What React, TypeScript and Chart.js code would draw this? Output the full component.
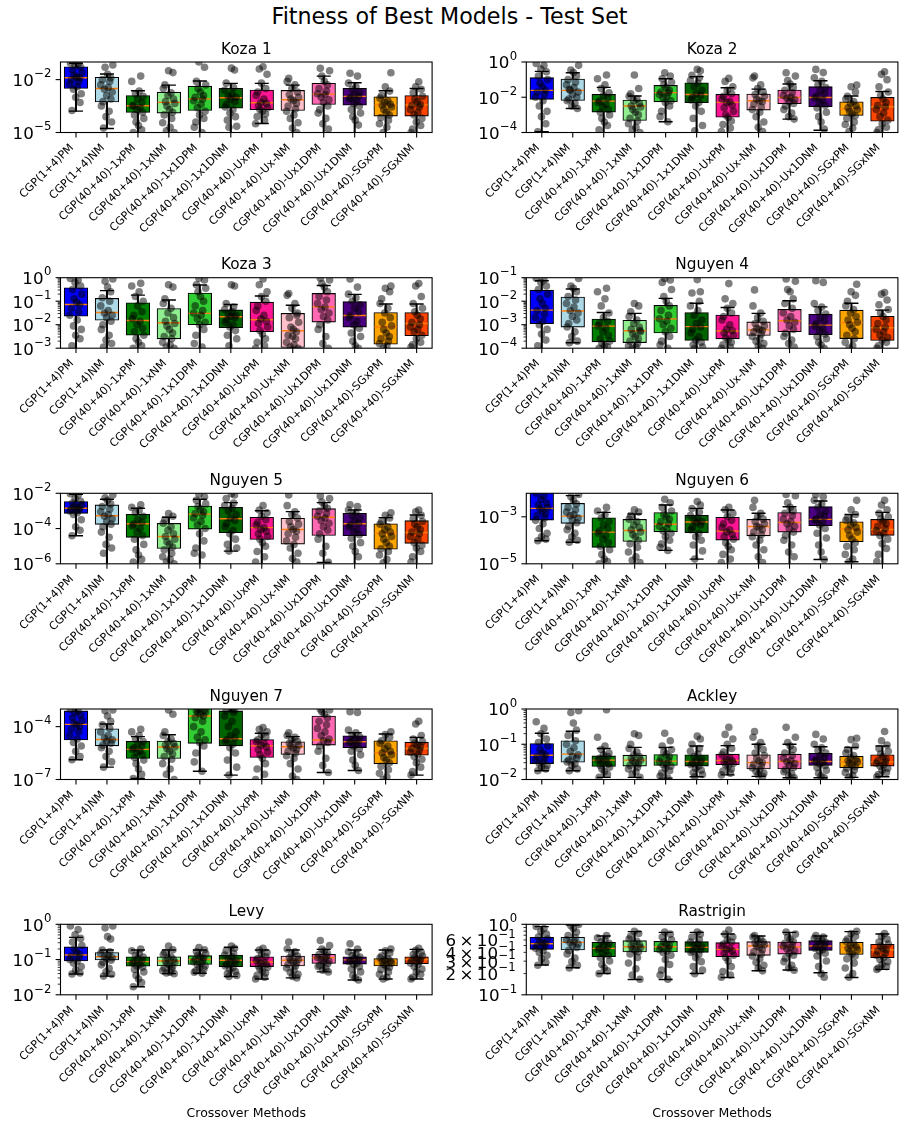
import React, { useEffect, useRef } from "react";
import { Chart, registerables } from "chart.js";

Chart.register(...registerables);

// ---------------- data ----------------
const CATEGORIES = [
  "CGP(1+4)PM", "CGP(1+4)NM", "CGP(40+40)-1xPM", "CGP(40+40)-1xNM",
  "CGP(40+40)-1x1DPM", "CGP(40+40)-1x1DNM", "CGP(40+40)-UxPM", "CGP(40+40)-Ux-NM",
  "CGP(40+40)-Ux1DPM", "CGP(40+40)-Ux1DNM", "CGP(40+40)-SGxPM", "CGP(40+40)-SGxNM",
];

// Box statistics per method, as log10 values: [whiskerLow, q1, median, q3, whiskerHigh]
const koza1Stats = [
  [-3.79, -2.5, -1.89, -1.27, -1.07], [-4.77, -3.27, -2.5, -1.87, -1.68], [-5.5, -3.86, -3.48, -2.9, -2.63],
  [-5.5, -3.9, -3.29, -2.71, -2.31], [-5.5, -3.75, -3.09, -2.37, -2.08], [-5.5, -3.62, -3.03, -2.5, -2.21],
  [-4.49, -3.71, -3.31, -2.59, -2.21], [-5.5, -3.75, -3.14, -2.61, -2.31], [-5.5, -3.41, -2.82, -2.21, -1.8],
  [-5.5, -3.45, -2.95, -2.5, -2.18], [-5.5, -4.07, -3.43, -2.97, -2.63], [-5.5, -4.07, -3.43, -2.9, -2.5],
];
const koza2Stats = [
  [-3.96, -2.12, -1.61, -0.89, -0.53], [-2.64, -2.18, -1.61, -0.97, -0.61], [-4.3, -2.84, -2.22, -1.84, -1.44],
  [-4.3, -3.32, -2.5, -2.16, -1.93], [-3.39, -2.26, -1.74, -1.33, -0.95], [-4.3, -2.31, -1.84, -1.18, -0.83],
  [-4.3, -3.13, -2.29, -1.84, -1.46], [-4.3, -2.73, -2.2, -1.82, -1.54], [-3.24, -2.37, -2.01, -1.59, -1.25],
  [-3.87, -2.54, -2.01, -1.4, -1.06], [-4.3, -3.03, -2.65, -2.26, -1.93], [-4.3, -3.36, -2.54, -2.01, -1.67],
];
const koza3Stats = [
  [-3.3, -1.64, -1.14, -0.43, 0.2], [-3.3, -1.81, -1.48, -0.88, -0.55], [-3.3, -2.45, -1.82, -1.07, -0.74],
  [-3.3, -2.6, -1.92, -1.31, -0.95], [-3.3, -2.0, -1.52, -0.65, -0.31], [-3.3, -2.13, -1.66, -1.37, -1.14],
  [-3.3, -2.3, -1.79, -1.04, -0.78], [-3.3, -2.97, -2.26, -1.52, -1.17], [-3.3, -1.89, -1.24, -0.67, -0.33],
  [-3.3, -2.1, -1.61, -1.02, -0.71], [-3.3, -2.83, -2.09, -1.48, -1.12], [-3.3, -2.47, -1.95, -1.48, -1.12],
];
const nguyen4Stats = [
  [-4.3, -2.96, -2.38, -1.53, -1.13], [-3.77, -3.1, -2.42, -1.82, -1.48], [-4.3, -3.73, -3.06, -2.76, -2.48],
  [-4.3, -3.76, -3.26, -2.81, -2.52], [-4.3, -3.35, -2.75, -2.18, -1.88], [-4.3, -3.67, -3.08, -2.48, -2.09],
  [-4.3, -3.6, -3.27, -2.59, -2.27], [-4.3, -3.46, -3.22, -2.88, -2.52], [-4.3, -3.3, -2.83, -2.35, -1.98],
  [-4.3, -3.42, -3.02, -2.55, -2.24], [-4.3, -3.59, -2.91, -2.38, -2.09], [-4.3, -3.67, -3.13, -2.64, -2.38],
];
const nguyen5Stats = [
  [-4.41, -3.14, -2.85, -2.47, -2.06], [-6.3, -3.76, -3.27, -2.66, -2.34], [-6.3, -4.5, -3.73, -3.19, -2.85],
  [-6.3, -5.13, -4.45, -3.71, -3.36], [-6.3, -4.03, -3.18, -2.72, -2.34], [-5.28, -4.24, -3.44, -2.8, -2.53],
  [-6.3, -4.62, -3.95, -3.36, -2.99], [-6.3, -4.88, -4.05, -3.42, -3.04], [-5.92, -4.39, -3.36, -2.87, -2.53],
  [-6.3, -4.41, -3.73, -3.14, -2.95], [-6.3, -5.17, -4.26, -3.73, -3.38], [-6.3, -4.84, -4.22, -3.55, -3.23],
];
const nguyen6Stats = [
  [-4.02, -3.14, -2.64, -1.9, -1.5], [-4.08, -3.28, -2.97, -2.43, -2.1], [-5.3, -4.3, -3.65, -3.04, -2.81],
  [-5.3, -4.05, -3.58, -3.11, -2.88], [-4.43, -3.64, -3.32, -2.82, -2.5], [-4.8, -3.68, -3.22, -2.94, -2.64],
  [-5.3, -3.99, -3.61, -3.02, -2.71], [-5.3, -3.81, -3.41, -3.11, -2.85], [-5.3, -3.65, -3.24, -2.82, -2.57],
  [-4.82, -3.38, -3.11, -2.57, -2.33], [-4.91, -4.06, -3.52, -3.21, -2.9], [-5.3, -3.79, -3.54, -3.11, -2.81],
];
const nguyen7Stats = [
  [-5.88, -4.76, -3.87, -3.11, -2.8], [-6.3, -5.09, -4.73, -4.12, -3.85], [-6.94, -5.81, -5.29, -4.84, -4.57],
  [-7.3, -5.81, -5.16, -4.82, -4.46], [-6.53, -4.95, -3.4, -2.9, -2.5], [-6.75, -5.09, -4.69, -3.11, -2.8],
  [-7.3, -5.75, -5.09, -4.73, -4.38], [-7.3, -5.58, -5.14, -4.86, -4.57], [-6.6, -5.05, -4.76, -3.4, -2.8],
  [-6.49, -5.2, -4.86, -4.52, -4.35], [-7.3, -6.11, -5.48, -4.8, -4.42], [-6.75, -5.62, -5.24, -4.88, -4.61],
];
const ackleyStats = [
  [-1.75, -1.55, -1.31, -0.98, -0.69], [-1.75, -1.51, -1.28, -0.9, -0.63], [-1.94, -1.63, -1.45, -1.33, -1.12],
  [-1.94, -1.62, -1.45, -1.31, -1.09], [-1.96, -1.6, -1.48, -1.29, -1.09], [-1.92, -1.62, -1.49, -1.3, -1.05],
  [-1.87, -1.58, -1.46, -1.28, -1.04], [-1.91, -1.7, -1.52, -1.3, -1.0], [-1.95, -1.7, -1.49, -1.28, -1.0],
  [-1.95, -1.6, -1.49, -1.26, -1.07], [-1.94, -1.67, -1.5, -1.34, -1.09], [-1.92, -1.62, -1.5, -1.3, -1.05],
];
const levyStats = [
  [-1.41, -1.04, -0.87, -0.64, -0.37], [-1.47, -1.01, -0.92, -0.8, -0.73], [-1.77, -1.19, -1.06, -0.92, -0.73],
  [-1.4, -1.18, -1.04, -0.92, -0.73], [-1.39, -1.14, -1.0, -0.89, -0.73], [-1.48, -1.2, -1.02, -0.87, -0.65],
  [-1.55, -1.2, -1.07, -0.92, -0.73], [-1.52, -1.18, -1.02, -0.9, -0.73], [-1.35, -1.11, -0.95, -0.85, -0.71],
  [-1.58, -1.13, -1.01, -0.92, -0.73], [-1.55, -1.18, -1.04, -0.97, -0.73], [-1.55, -1.12, -1.0, -0.92, -0.71],
];
const rastriginStats = [
  [-0.578, -0.355, -0.275, -0.185, -0.033], [-0.616, -0.365, -0.256, -0.185, -0.01], [-0.697, -0.46, -0.341, -0.256, -0.166],
  [-0.782, -0.393, -0.318, -0.232, -0.104], [-0.782, -0.393, -0.318, -0.242, -0.114], [-0.697, -0.398, -0.327, -0.246, -0.114],
  [-0.754, -0.46, -0.355, -0.261, -0.137], [-0.659, -0.441, -0.308, -0.246, -0.166], [-0.649, -0.422, -0.322, -0.251, -0.114],
  [-0.687, -0.37, -0.308, -0.232, -0.166], [-0.754, -0.427, -0.327, -0.256, -0.104], [-0.64, -0.474, -0.365, -0.284, -0.137],
];

// Individual runs (log10 fitness) per method
const koza1Points = [
  [-1.05, -1.1, -1.2, -1.3, -1.45, -1.6, -1.75, -1.85, -1.9, -2.0, -2.1, -2.25, -2.4, -2.55, -2.8, -3.0, -3.3, -3.75],
  [-1.17, -1.3, -1.7, -1.9, -2.0, -2.1, -2.3, -2.45, -2.55, -2.7, -2.9, -3.1, -3.25, -3.5, -3.8, -4.1, -4.4, -4.75],
  [-1.8, -2.1, -2.65, -2.8, -2.95, -3.1, -3.3, -3.45, -3.5, -3.6, -3.7, -3.85, -4.0, -4.2, -4.4, -4.6, -4.85, -5.0],
  [-1.5, -1.6, -2.3, -2.5, -2.75, -2.9, -3.1, -3.25, -3.35, -3.5, -3.7, -3.85, -4.0, -4.2, -4.45, -4.7, -4.9, -5.0],
  [-1.0, -1.3, -2.1, -2.3, -2.5, -2.7, -2.9, -3.0, -3.1, -3.2, -3.4, -3.6, -3.8, -4.0, -4.2, -4.4, -4.7, -5.0],
  [-1.35, -1.45, -2.2, -2.45, -2.6, -2.8, -2.95, -3.0, -3.1, -3.25, -3.4, -3.55, -3.7, -3.9, -4.1, -4.3, -4.65, -4.7],
  [-1.27, -1.4, -1.7, -2.2, -2.5, -2.7, -2.9, -3.1, -3.3, -3.35, -3.5, -3.6, -3.7, -3.8, -3.95, -4.1, -4.3, -4.5],
  [-1.93, -2.1, -2.3, -2.5, -2.7, -2.85, -3.0, -3.1, -3.2, -3.35, -3.5, -3.65, -3.8, -4.0, -4.2, -4.45, -4.75, -5.0],
  [-1.36, -1.5, -1.8, -2.1, -2.3, -2.5, -2.65, -2.8, -2.85, -3.0, -3.15, -3.3, -3.5, -3.7, -3.9, -4.2, -4.5, -4.8],
  [-1.64, -1.8, -2.2, -2.4, -2.55, -2.7, -2.85, -2.95, -3.0, -3.1, -3.2, -3.35, -3.5, -3.7, -3.9, -4.1, -4.3, -4.58],
  [-1.61, -2.4, -2.65, -2.9, -3.05, -3.2, -3.3, -3.4, -3.45, -3.55, -3.7, -3.85, -4.0, -4.15, -4.3, -4.5, -4.7, -5.0],
  [-2.12, -2.4, -2.55, -2.75, -2.95, -3.1, -3.25, -3.4, -3.45, -3.55, -3.7, -3.85, -4.0, -4.2, -4.4, -4.6, -4.8, -5.0],
];
const koza2Points = [
  [-0.08, -0.2, -0.4, -0.55, -0.8, -1.0, -1.2, -1.4, -1.6, -1.7, -1.85, -2.0, -2.2, -2.5, -2.8, -3.1, -3.5, -3.96],
  [-0.19, -0.45, -0.6, -0.8, -1.0, -1.15, -1.3, -1.45, -1.6, -1.7, -1.85, -2.0, -2.1, -2.2, -2.35, -2.5, -2.64, -1.55],
  [-0.74, -0.95, -1.3, -1.5, -1.75, -1.9, -2.05, -2.2, -2.3, -2.4, -2.55, -2.7, -2.85, -3.0, -3.2, -3.4, -3.6, -3.85],
  [-0.74, -1.5, -1.8, -1.95, -2.1, -2.2, -2.35, -2.5, -2.55, -2.7, -2.85, -3.0, -3.2, -3.35, -3.5, -3.7, -3.85, -4.0],
  [-0.61, -0.8, -0.95, -1.15, -1.3, -1.45, -1.6, -1.7, -1.75, -1.85, -1.95, -2.05, -2.2, -2.3, -2.5, -2.8, -3.1, -3.39],
  [-0.42, -0.5, -0.75, -0.9, -1.05, -1.2, -1.4, -1.6, -1.8, -1.9, -2.0, -2.15, -2.3, -2.5, -2.8, -3.2, -3.6, -3.9],
  [-0.93, -1.1, -1.4, -1.6, -1.8, -1.95, -2.1, -2.25, -2.3, -2.45, -2.6, -2.8, -3.0, -3.15, -3.35, -3.55, -3.75, -3.95],
  [-0.8, -0.9, -1.3, -1.5, -1.7, -1.85, -1.95, -2.1, -2.2, -2.25, -2.4, -2.55, -2.7, -2.85, -3.1, -3.4, -3.7, -3.95],
  [-0.61, -0.8, -1.05, -1.25, -1.45, -1.6, -1.75, -1.9, -2.0, -2.05, -2.15, -2.25, -2.35, -2.5, -2.7, -2.9, -3.1, -3.24],
  [-0.42, -0.6, -0.9, -1.1, -1.3, -1.45, -1.65, -1.8, -1.95, -2.05, -2.15, -2.3, -2.45, -2.6, -2.85, -3.1, -3.4, -3.8],
  [-1.31, -1.4, -1.7, -1.95, -2.1, -2.25, -2.35, -2.5, -2.6, -2.7, -2.8, -2.95, -3.05, -3.2, -3.4, -3.55, -3.75, -3.95],
  [-0.55, -0.7, -1.0, -1.4, -1.7, -1.9, -2.1, -2.3, -2.45, -2.55, -2.7, -2.9, -3.1, -3.3, -3.5, -3.7, -3.85, -4.0],
];
const koza3Points = [
  [-0.03, -0.1, -0.2, -0.35, -0.5, -0.7, -0.9, -1.05, -1.15, -1.3, -1.45, -1.6, -1.8, -2.05, -2.2, -2.45, -2.6, -2.9],
  [-0.05, -0.15, -0.4, -0.6, -0.85, -1.0, -1.2, -1.4, -1.5, -1.6, -1.7, -1.85, -2.0, -2.2, -2.45, -2.65, -2.8, -2.95],
  [-0.24, -0.35, -0.6, -0.8, -1.0, -1.2, -1.45, -1.6, -1.75, -1.85, -2.0, -2.15, -2.3, -2.45, -2.6, -2.75, -2.9, -3.0],
  [-0.3, -0.4, -0.9, -1.1, -1.3, -1.5, -1.7, -1.85, -1.95, -2.05, -2.2, -2.35, -2.5, -2.6, -2.75, -2.85, -2.95, -3.0],
  [-0.02, -0.1, -0.3, -0.45, -0.6, -0.8, -1.0, -1.2, -1.4, -1.5, -1.6, -1.75, -1.9, -2.0, -2.2, -2.45, -2.8, -2.95],
  [-0.3, -0.35, -1.1, -1.25, -1.35, -1.45, -1.55, -1.6, -1.65, -1.7, -1.8, -1.9, -2.0, -2.1, -2.25, -2.45, -2.6, -2.9],
  [-0.05, -0.3, -0.6, -0.8, -1.0, -1.2, -1.4, -1.6, -1.75, -1.85, -1.95, -2.1, -2.25, -2.4, -2.6, -2.75, -2.9, -3.0],
  [-0.67, -0.75, -1.1, -1.3, -1.5, -1.7, -1.9, -2.1, -2.2, -2.3, -2.45, -2.6, -2.75, -2.85, -2.95, -3.0, -2.5, -1.6],
  [-0.02, -0.1, -0.25, -0.4, -0.6, -0.8, -0.95, -1.1, -1.25, -1.35, -1.5, -1.65, -1.8, -2.0, -2.2, -2.5, -2.8, -3.0],
  [-0.05, -0.4, -0.7, -0.85, -1.0, -1.15, -1.3, -1.45, -1.6, -1.7, -1.85, -2.0, -2.15, -2.35, -2.5, -2.7, -2.9, -3.0],
  [-0.36, -0.45, -0.6, -0.9, -1.1, -1.3, -1.5, -1.7, -1.9, -2.05, -2.2, -2.35, -2.5, -2.6, -2.7, -2.8, -2.9, -3.0],
  [-0.25, -0.35, -0.8, -1.1, -1.3, -1.45, -1.6, -1.75, -1.9, -2.0, -2.1, -2.2, -2.3, -2.45, -2.6, -2.75, -2.85, -2.95],
];
const nguyen4Points = [
  [-1.02, -1.1, -1.2, -1.35, -1.5, -1.7, -1.9, -2.1, -2.3, -2.4, -2.55, -2.7, -2.85, -3.0, -3.2, -3.4, -3.65, -3.9],
  [-1.03, -1.35, -1.45, -1.6, -1.8, -1.95, -2.1, -2.25, -2.4, -2.5, -2.65, -2.8, -2.95, -3.1, -3.3, -3.5, -3.7, -3.77],
  [-1.45, -1.6, -1.9, -2.2, -2.5, -2.7, -2.85, -2.95, -3.05, -3.15, -3.3, -3.45, -3.6, -3.7, -3.8, -3.9, -3.95, -4.0],
  [-2.1, -2.2, -2.45, -2.65, -2.8, -2.95, -3.1, -3.2, -3.3, -3.4, -3.5, -3.6, -3.7, -3.8, -3.9, -3.95, -4.0, -3.25],
  [-1.03, -1.1, -1.2, -1.5, -1.8, -2.0, -2.2, -2.4, -2.6, -2.75, -2.85, -3.0, -3.15, -3.3, -3.5, -3.7, -3.85, -4.0],
  [-1.08, -1.6, -1.65, -2.0, -2.2, -2.4, -2.6, -2.8, -2.95, -3.1, -3.2, -3.35, -3.5, -3.65, -3.75, -3.85, -3.95, -4.0],
  [-1.25, -1.9, -2.1, -2.3, -2.5, -2.65, -2.8, -3.0, -3.2, -3.25, -3.35, -3.45, -3.55, -3.65, -3.75, -3.85, -3.95, -4.0],
  [-1.52, -2.2, -2.5, -2.7, -2.85, -2.95, -3.05, -3.15, -3.2, -3.25, -3.3, -3.4, -3.5, -3.6, -3.7, -3.8, -3.9, -4.0],
  [-1.05, -1.15, -1.5, -1.6, -1.9, -2.1, -2.3, -2.5, -2.65, -2.8, -2.9, -3.05, -3.2, -3.35, -3.5, -3.65, -3.8, -3.95],
  [-1.13, -1.2, -2.1, -2.25, -2.4, -2.55, -2.7, -2.85, -2.95, -3.05, -3.15, -3.25, -3.4, -3.5, -3.6, -3.75, -3.85, -4.0],
  [-1.28, -1.6, -1.75, -2.0, -2.2, -2.35, -2.5, -2.65, -2.8, -2.9, -3.0, -3.15, -3.3, -3.45, -3.6, -3.75, -3.9, -4.0],
  [-1.63, -1.7, -1.95, -2.15, -2.35, -2.5, -2.65, -2.8, -2.95, -3.1, -3.2, -3.3, -3.45, -3.55, -3.65, -3.75, -3.9, -4.0],
];
const nguyen5Points = [
  [-2.02, -2.1, -2.3, -2.45, -2.55, -2.65, -2.75, -2.8, -2.85, -2.9, -2.95, -3.0, -3.1, -3.2, -3.5, -3.9, -4.1, -4.41],
  [-2.1, -2.25, -2.4, -2.6, -2.75, -2.9, -3.05, -3.2, -3.3, -3.45, -3.6, -3.75, -3.9, -4.2, -4.5, -4.9, -5.1, -5.4],
  [-2.65, -2.8, -2.95, -3.1, -3.3, -3.5, -3.65, -3.75, -3.85, -4.0, -4.2, -4.4, -4.6, -4.9, -5.2, -5.5, -5.75, -5.9],
  [-3.15, -3.3, -3.5, -3.7, -3.9, -4.1, -4.3, -4.45, -4.6, -4.75, -4.9, -5.05, -5.2, -5.4, -5.6, -5.75, -5.9, -6.0],
  [-2.05, -2.2, -2.4, -2.6, -2.75, -2.9, -3.05, -3.15, -3.25, -3.4, -3.6, -3.8, -4.0, -4.3, -4.7, -5.1, -5.4, -5.5],
  [-2.02, -2.1, -2.3, -2.55, -2.7, -2.85, -3.0, -3.2, -3.4, -3.55, -3.7, -3.9, -4.1, -4.3, -4.6, -4.9, -5.1, -5.28],
  [-2.7, -2.95, -3.1, -3.3, -3.5, -3.65, -3.8, -3.95, -4.05, -4.15, -4.3, -4.45, -4.6, -4.8, -5.0, -5.3, -5.6, -5.9],
  [-2.1, -2.7, -3.05, -3.2, -3.4, -3.6, -3.75, -3.9, -4.05, -4.15, -4.3, -4.5, -4.7, -4.9, -5.1, -5.4, -5.7, -5.9],
  [-2.15, -2.3, -2.5, -2.7, -2.85, -3.0, -3.15, -3.3, -3.4, -3.55, -3.7, -3.9, -4.1, -4.3, -4.6, -5.0, -5.4, -5.92],
  [-2.65, -2.75, -2.95, -3.1, -3.25, -3.4, -3.55, -3.7, -3.8, -3.9, -4.05, -4.2, -4.35, -4.55, -4.8, -5.0, -5.3, -5.6],
  [-3.1, -3.25, -3.4, -3.6, -3.75, -3.9, -4.05, -4.2, -4.3, -4.45, -4.6, -4.8, -5.0, -5.15, -5.3, -5.5, -5.75, -5.95],
  [-2.95, -3.05, -3.25, -3.45, -3.6, -3.75, -3.9, -4.05, -4.2, -4.3, -4.45, -4.6, -4.8, -4.95, -5.1, -5.3, -5.6, -5.9],
];
const nguyen6Points = [
  [-2.0, -2.1, -2.25, -2.4, -2.5, -2.6, -2.65, -2.75, -2.85, -2.95, -3.05, -3.15, -3.3, -3.5, -3.7, -3.85, -3.95, -4.02],
  [-2.05, -2.15, -2.3, -2.45, -2.6, -2.7, -2.8, -2.9, -2.95, -3.05, -3.15, -3.25, -3.4, -3.55, -3.7, -3.85, -4.0, -4.08],
  [-2.6, -2.75, -2.9, -3.05, -3.2, -3.35, -3.5, -3.6, -3.7, -3.8, -3.95, -4.1, -4.25, -4.4, -4.6, -4.8, -4.9, -5.0],
  [-2.7, -2.8, -2.95, -3.1, -3.2, -3.35, -3.45, -3.55, -3.65, -3.75, -3.85, -4.0, -4.15, -4.3, -4.5, -4.7, -4.85, -4.95],
  [-2.25, -2.4, -2.6, -2.75, -2.9, -3.0, -3.1, -3.2, -3.3, -3.4, -3.5, -3.6, -3.7, -3.85, -4.0, -4.15, -4.3, -4.43],
  [-2.35, -2.5, -2.65, -2.8, -2.95, -3.05, -3.15, -3.2, -3.25, -3.35, -3.45, -3.55, -3.7, -3.85, -4.0, -4.2, -4.45, -4.8],
  [-2.6, -2.7, -2.85, -3.0, -3.15, -3.3, -3.45, -3.55, -3.65, -3.75, -3.85, -3.95, -4.1, -4.25, -4.4, -4.6, -4.8, -4.95],
  [-2.3, -2.6, -2.85, -3.0, -3.1, -3.2, -3.3, -3.4, -3.45, -3.55, -3.65, -3.75, -3.85, -4.0, -4.2, -4.4, -4.7, -4.95],
  [-2.05, -2.1, -2.4, -2.6, -2.75, -2.85, -2.95, -3.1, -3.2, -3.3, -3.4, -3.5, -3.65, -3.8, -4.0, -4.2, -4.5, -4.7],
  [-2.05, -2.15, -2.3, -2.45, -2.6, -2.75, -2.9, -3.0, -3.1, -3.15, -3.25, -3.35, -3.5, -3.7, -3.9, -4.2, -4.5, -4.82],
  [-2.3, -2.7, -2.9, -3.05, -3.15, -3.25, -3.35, -3.45, -3.55, -3.65, -3.8, -3.95, -4.1, -4.25, -4.4, -4.6, -4.8, -4.91],
  [-2.3, -2.5, -2.7, -2.85, -3.0, -3.1, -3.2, -3.3, -3.4, -3.5, -3.6, -3.7, -3.8, -3.95, -4.15, -4.35, -4.6, -4.9],
];
const nguyen7Points = [
  [-3.02, -3.1, -3.2, -3.35, -3.5, -3.65, -3.8, -3.9, -4.0, -4.15, -4.3, -4.5, -4.7, -4.9, -5.1, -5.4, -5.7, -5.88],
  [-3.05, -3.1, -3.4, -3.7, -3.9, -4.1, -4.3, -4.5, -4.65, -4.75, -4.85, -4.95, -5.05, -5.2, -5.4, -5.7, -6.0, -6.3],
  [-4.15, -4.3, -4.5, -4.7, -4.85, -5.0, -5.1, -5.2, -5.3, -5.4, -5.5, -5.6, -5.75, -5.9, -6.1, -6.4, -6.7, -6.94],
  [-3.05, -3.3, -4.3, -4.5, -4.7, -4.85, -4.95, -5.05, -5.15, -5.25, -5.4, -5.55, -5.7, -5.85, -6.1, -6.4, -6.7, -7.0],
  [-3.02, -3.05, -3.1, -3.15, -3.2, -3.3, -3.4, -3.5, -3.7, -4.0, -4.3, -4.6, -4.75, -4.9, -5.1, -5.5, -6.0, -6.53],
  [-3.02, -3.05, -3.1, -3.2, -3.4, -3.7, -4.0, -4.3, -4.5, -4.65, -4.75, -4.85, -5.0, -5.2, -5.5, -5.9, -6.3, -6.75],
  [-4.05, -4.15, -4.3, -4.45, -4.6, -4.75, -4.85, -4.95, -5.05, -5.15, -5.3, -5.45, -5.6, -5.8, -6.1, -6.4, -6.7, -7.0],
  [-4.35, -4.5, -4.6, -4.75, -4.85, -4.95, -5.05, -5.1, -5.2, -5.3, -5.4, -5.5, -5.65, -5.8, -6.1, -6.4, -6.8, -7.0],
  [-3.02, -3.05, -3.15, -3.3, -3.5, -3.7, -3.9, -4.1, -4.3, -4.5, -4.7, -4.8, -4.9, -5.1, -5.4, -5.8, -6.2, -6.6],
  [-3.15, -3.2, -4.2, -4.35, -4.5, -4.6, -4.7, -4.8, -4.85, -4.9, -5.0, -5.1, -5.25, -5.4, -5.6, -5.9, -6.2, -6.49],
  [-4.3, -4.45, -4.6, -4.8, -4.95, -5.1, -5.25, -5.4, -5.5, -5.6, -5.75, -5.9, -6.05, -6.25, -6.45, -6.65, -6.85, -7.0],
  [-3.7, -3.85, -4.5, -4.7, -4.85, -4.95, -5.05, -5.15, -5.25, -5.35, -5.45, -5.55, -5.7, -5.85, -6.05, -6.3, -6.55, -6.75],
];
const ackleyPoints = [
  [-0.36, -0.55, -0.7, -0.85, -0.95, -1.05, -1.15, -1.25, -1.3, -1.35, -1.4, -1.45, -1.5, -1.55, -1.6, -1.65, -1.7, -1.75],
  [-0.05, -0.1, -0.4, -0.6, -0.75, -0.9, -1.0, -1.1, -1.2, -1.3, -1.35, -1.4, -1.45, -1.5, -1.55, -1.6, -1.7, -1.75],
  [-0.02, -0.8, -1.05, -1.15, -1.25, -1.3, -1.35, -1.4, -1.45, -1.48, -1.52, -1.56, -1.6, -1.65, -1.7, -1.78, -1.85, -1.94],
  [-0.7, -0.75, -1.0, -1.12, -1.22, -1.3, -1.35, -1.4, -1.45, -1.48, -1.52, -1.56, -1.6, -1.65, -1.7, -1.78, -1.85, -1.94],
  [-0.69, -0.9, -1.05, -1.15, -1.22, -1.28, -1.35, -1.4, -1.45, -1.5, -1.55, -1.58, -1.62, -1.68, -1.75, -1.82, -1.9, -1.96],
  [-0.77, -0.85, -1.0, -1.12, -1.2, -1.28, -1.35, -1.42, -1.47, -1.5, -1.54, -1.58, -1.62, -1.68, -1.74, -1.8, -1.86, -1.92],
  [-0.52, -0.72, -0.85, -1.0, -1.12, -1.22, -1.3, -1.38, -1.43, -1.47, -1.5, -1.54, -1.58, -1.63, -1.7, -1.76, -1.82, -1.87],
  [-0.64, -0.8, -0.95, -1.05, -1.15, -1.25, -1.32, -1.4, -1.47, -1.52, -1.57, -1.62, -1.67, -1.72, -1.77, -1.82, -1.87, -1.91],
  [-0.52, -0.8, -0.95, -1.05, -1.15, -1.25, -1.32, -1.4, -1.46, -1.5, -1.55, -1.6, -1.66, -1.72, -1.78, -1.84, -1.9, -1.95],
  [-0.72, -0.85, -1.0, -1.1, -1.18, -1.25, -1.32, -1.38, -1.44, -1.48, -1.52, -1.56, -1.6, -1.66, -1.74, -1.82, -1.9, -1.95],
  [-0.83, -0.87, -1.05, -1.15, -1.25, -1.32, -1.38, -1.43, -1.47, -1.5, -1.54, -1.58, -1.63, -1.68, -1.74, -1.8, -1.88, -1.94],
  [-0.64, -0.9, -1.02, -1.12, -1.2, -1.28, -1.35, -1.42, -1.47, -1.5, -1.54, -1.58, -1.62, -1.68, -1.74, -1.8, -1.86, -1.92],
];
const levyPoints = [
  [-0.05, -0.15, -0.3, -0.4, -0.5, -0.6, -0.7, -0.78, -0.85, -0.9, -0.95, -1.0, -1.05, -1.1, -1.2, -1.3, -1.38, -1.41],
  [-0.05, -0.1, -0.35, -0.42, -0.73, -0.78, -0.83, -0.88, -0.92, -0.95, -0.98, -1.02, -1.08, -1.15, -1.25, -1.35, -1.42, -1.47],
  [-0.7, -0.75, -0.82, -0.88, -0.93, -0.98, -1.02, -1.06, -1.1, -1.14, -1.18, -1.22, -1.28, -1.35, -1.45, -1.55, -1.65, -1.77],
  [-0.62, -0.72, -0.8, -0.86, -0.92, -0.96, -1.0, -1.04, -1.08, -1.12, -1.16, -1.2, -1.24, -1.28, -1.32, -1.36, -1.38, -1.4],
  [-0.66, -0.72, -0.78, -0.84, -0.88, -0.92, -0.96, -1.0, -1.03, -1.06, -1.1, -1.14, -1.18, -1.22, -1.27, -1.32, -1.36, -1.39],
  [-0.62, -0.68, -0.75, -0.82, -0.87, -0.92, -0.97, -1.02, -1.06, -1.1, -1.14, -1.18, -1.23, -1.28, -1.34, -1.4, -1.45, -1.48],
  [-0.68, -0.73, -0.8, -0.86, -0.92, -0.97, -1.02, -1.07, -1.1, -1.14, -1.18, -1.22, -1.27, -1.32, -1.38, -1.45, -1.5, -1.55],
  [-0.5, -0.7, -0.78, -0.84, -0.9, -0.95, -0.99, -1.02, -1.06, -1.1, -1.14, -1.18, -1.24, -1.3, -1.36, -1.42, -1.48, -1.52],
  [-0.46, -0.6, -0.7, -0.76, -0.82, -0.86, -0.9, -0.94, -0.97, -1.0, -1.04, -1.08, -1.12, -1.16, -1.2, -1.25, -1.3, -1.35],
  [-0.55, -0.7, -0.78, -0.84, -0.89, -0.93, -0.97, -1.0, -1.03, -1.06, -1.1, -1.14, -1.2, -1.27, -1.35, -1.45, -1.52, -1.58],
  [-0.7, -0.75, -0.82, -0.9, -0.95, -0.98, -1.01, -1.04, -1.07, -1.1, -1.14, -1.18, -1.22, -1.28, -1.35, -1.42, -1.5, -1.55],
  [-0.68, -0.74, -0.8, -0.86, -0.9, -0.94, -0.97, -1.0, -1.03, -1.06, -1.1, -1.14, -1.2, -1.27, -1.35, -1.42, -1.5, -1.55],
];
const rastriginPoints = [
  [-0.03, -0.06, -0.1, -0.14, -0.18, -0.21, -0.24, -0.26, -0.28, -0.3, -0.32, -0.34, -0.37, -0.4, -0.44, -0.49, -0.54, -0.58],
  [-0.003, -0.02, -0.06, -0.11, -0.16, -0.19, -0.22, -0.24, -0.26, -0.28, -0.3, -0.33, -0.37, -0.42, -0.48, -0.53, -0.58, -0.62],
  [-0.16, -0.19, -0.22, -0.25, -0.27, -0.3, -0.32, -0.34, -0.36, -0.38, -0.41, -0.44, -0.47, -0.52, -0.57, -0.62, -0.66, -0.7],
  [-0.1, -0.13, -0.17, -0.21, -0.24, -0.27, -0.29, -0.31, -0.33, -0.35, -0.37, -0.39, -0.42, -0.47, -0.55, -0.63, -0.72, -0.78],
  [-0.11, -0.14, -0.18, -0.22, -0.25, -0.28, -0.3, -0.32, -0.34, -0.36, -0.38, -0.4, -0.44, -0.5, -0.57, -0.65, -0.72, -0.78],
  [-0.11, -0.14, -0.18, -0.22, -0.25, -0.28, -0.3, -0.32, -0.34, -0.36, -0.38, -0.4, -0.43, -0.47, -0.53, -0.6, -0.65, -0.7],
  [-0.08, -0.14, -0.18, -0.22, -0.25, -0.28, -0.31, -0.34, -0.36, -0.38, -0.41, -0.44, -0.47, -0.52, -0.6, -0.67, -0.72, -0.75],
  [-0.16, -0.18, -0.21, -0.23, -0.25, -0.27, -0.29, -0.31, -0.33, -0.36, -0.39, -0.42, -0.45, -0.49, -0.54, -0.58, -0.62, -0.66],
  [-0.11, -0.14, -0.18, -0.21, -0.24, -0.27, -0.29, -0.31, -0.33, -0.35, -0.38, -0.41, -0.44, -0.48, -0.53, -0.58, -0.62, -0.65],
  [-0.16, -0.18, -0.2, -0.22, -0.24, -0.26, -0.28, -0.3, -0.32, -0.34, -0.36, -0.38, -0.41, -0.45, -0.52, -0.6, -0.7, -0.75],
  [-0.1, -0.13, -0.17, -0.21, -0.24, -0.27, -0.3, -0.32, -0.34, -0.36, -0.39, -0.42, -0.45, -0.49, -0.55, -0.62, -0.7, -0.75],
  [-0.13, -0.17, -0.21, -0.25, -0.28, -0.31, -0.34, -0.36, -0.38, -0.41, -0.44, -0.47, -0.5, -0.53, -0.57, -0.6, -0.62, -0.64],
];

// Axis ranges (log10 of limits) and labelled tick exponents
const koza1Range = [-5, -1];
const koza1Ticks = [-5, -2];
const koza2Range = [-4, 0];
const koza2Ticks = [-4, -2, 0];
const koza3Range = [-3, 0];
const koza3Ticks = [-3, -2, -1, 0];
const nguyen4Range = [-4, -1];
const nguyen4Ticks = [-4, -3, -2, -1];
const nguyen5Range = [-6, -2];
const nguyen5Ticks = [-6, -4, -2];
const nguyen6Range = [-5, -2];
const nguyen6Ticks = [-5, -3];
const nguyen7Range = [-7, -3];
const nguyen7Ticks = [-7, -4];
const ackleyRange = [-2, 0];
const ackleyTicks = [-2, -1, 0];
const levyRange = [-2, 0];
const levyTicks = [-2, -1, 0];
const rastriginRange = [-1, 0];
const rastriginTicks = [-1, 0];
const rastriginMinorLabels = [2, 3, 4, 6];

const TITLE = "Fitness of Best Models - Test Set";
const X_LABEL = "Crossover Methods";

// ---------------- styles / layout ----------------
const BOX_COLORS = [
  "#0000ff", "#add8e6", "#008000", "#90ee90", "#32cd32", "#006400",
  "#ff1493", "#ffc0cb", "#ff69b4", "#4b0082", "#ffa500", "#ff4500",
];
const MEDIAN_COLOR = "#ff7f0e";
const FONT = '"DejaVu Sans"';
const COL_LEFT = [60.5, 526.3];
const ROW_TOP = [62, 277.7, 493.3, 709, 924.3];
const PLOT_W = 371.6;
const PLOT_H = 70.5;
const JITTER = [-0.18, 0.07, -0.03, 0.15, -0.11, 0.19, -0.06, 0.02, 0.12, -0.15, 0.09, -0.2, 0.04, -0.08, 0.17, -0.01, 0.13, -0.13];

type PanelSpec = {
  title: string; stats: number[][]; points: number[][]; range: number[]; ticks: number[];
  subs: boolean; minorLabels?: number[]; col: number; row: number;
};

const PANELS: PanelSpec[] = [
  { title: "Koza 1", stats: koza1Stats, points: koza1Points, range: koza1Range, ticks: koza1Ticks, subs: false, col: 0, row: 0 },
  { title: "Koza 2", stats: koza2Stats, points: koza2Points, range: koza2Range, ticks: koza2Ticks, subs: false, col: 1, row: 0 },
  { title: "Koza 3", stats: koza3Stats, points: koza3Points, range: koza3Range, ticks: koza3Ticks, subs: true, col: 0, row: 1 },
  { title: "Nguyen 4", stats: nguyen4Stats, points: nguyen4Points, range: nguyen4Range, ticks: nguyen4Ticks, subs: true, col: 1, row: 1 },
  { title: "Nguyen 5", stats: nguyen5Stats, points: nguyen5Points, range: nguyen5Range, ticks: nguyen5Ticks, subs: false, col: 0, row: 2 },
  { title: "Nguyen 6", stats: nguyen6Stats, points: nguyen6Points, range: nguyen6Range, ticks: nguyen6Ticks, subs: false, col: 1, row: 2 },
  { title: "Nguyen 7", stats: nguyen7Stats, points: nguyen7Points, range: nguyen7Range, ticks: nguyen7Ticks, subs: false, col: 0, row: 3 },
  { title: "Ackley", stats: ackleyStats, points: ackleyPoints, range: ackleyRange, ticks: ackleyTicks, subs: true, col: 1, row: 3 },
  { title: "Levy", stats: levyStats, points: levyPoints, range: levyRange, ticks: levyTicks, subs: true, col: 0, row: 4 },
  { title: "Rastrigin", stats: rastriginStats, points: rastriginPoints, range: rastriginRange, ticks: rastriginTicks, subs: true, minorLabels: rastriginMinorLabels, col: 1, row: 4 },
];

const pow10 = (e: number) => Math.pow(10, e);

function drawPowLabel(ctx: CanvasRenderingContext2D, xRight: number, y: number, prefix: string, exp: number) {
  const main = prefix + "10";
  const sup = exp < 0 ? "\u2212" + Math.abs(exp) : String(exp);
  ctx.font = `16.7px ${FONT}`;
  const wMain = ctx.measureText(main).width;
  ctx.font = `11.7px ${FONT}`;
  const wSup = ctx.measureText(sup).width;
  const x0 = xRight - wMain - wSup - 0.5;
  ctx.textAlign = "left";
  ctx.textBaseline = "alphabetic";
  ctx.font = `16.7px ${FONT}`;
  ctx.fillText(main, x0, y + 6.4);
  ctx.font = `11.7px ${FONT}`;
  ctx.fillText(sup, x0 + wMain + 0.5, y + 6.4 - 8.7);
}

function hLine(ctx: CanvasRenderingContext2D, x1: number, y1: number, x2: number, y2: number) {
  ctx.beginPath();
  ctx.moveTo(x1, y1);
  ctx.lineTo(x2, y2);
  ctx.stroke();
}

function overlayPlugin(p: PanelSpec) {
  return {
    id: "overlay",
    afterDraw(chart: any) {
      const ctx = chart.ctx as CanvasRenderingContext2D;
      const a = chart.chartArea;
      const ys = chart.scales.y;
      const xs = chart.scales.x;
      ctx.save();
      ctx.strokeStyle = "#000";
      ctx.fillStyle = "#000";
      ctx.lineWidth = 1.1;
      ctx.strokeRect(a.left, a.top, a.right - a.left, a.bottom - a.top);

      const [lo, hi] = p.range;
      if (p.subs) {
        ctx.lineWidth = 0.8;
        for (let d = lo; d < hi; d++) {
          for (let m = 2; m <= 9; m++) {
            const y = ys.getPixelForValue(m * pow10(d));
            hLine(ctx, a.left - 2.8, y, a.left, y);
          }
        }
      }
      ctx.lineWidth = 1.1;
      for (const e of p.ticks) {
        const y = ys.getPixelForValue(pow10(e));
        hLine(ctx, a.left - 4.9, y, a.left, y);
        drawPowLabel(ctx, a.left - 9, y, "", e);
      }
      if (p.minorLabels) {
        for (const m of p.minorLabels) {
          const y = ys.getPixelForValue(m * pow10(lo));
          drawPowLabel(ctx, a.left - 10.5, y, m + "\u2009\u00d7\u2009", lo);
        }
      }

      // x ticks and category labels
      ctx.lineWidth = 1.1;
      ctx.font = `11.1px ${FONT}`;
      CATEGORIES.forEach((lab, i) => {
        const x = xs.getPixelForValue(i);
        hLine(ctx, x, a.bottom, x, a.bottom + 4.9);
        ctx.save();
        ctx.translate(x, a.bottom + 17.5);
        ctx.rotate(-Math.PI / 4);
        ctx.textAlign = "right";
        ctx.textBaseline = "bottom";
        ctx.fillText(lab, 0, 0);
        ctx.restore();
      });

      // panel title
      ctx.font = `15.3px ${FONT}`;
      ctx.textAlign = "center";
      ctx.textBaseline = "alphabetic";
      ctx.fillText(p.title, (a.left + a.right) / 2, a.top - 8.3);

      if (p.row === 4) {
        ctx.font = `12.5px ${FONT}`;
        ctx.fillText(X_LABEL, (a.left + a.right) / 2, a.bottom + 121.7);
      }
      ctx.restore();
    },
  };
}

function Panel({ p }: { p: PanelSpec }) {
  const ref = useRef<HTMLCanvasElement>(null);
  const L = COL_LEFT[p.col];
  const T = ROW_TOP[p.row];
  const cLeft = Math.max(0, Math.floor(L - 86));
  const cTop = Math.floor(T - 40);
  const padL = L - cLeft;
  const padT = T - cTop;
  const cW = Math.ceil(L + PLOT_W + 3) - cLeft;
  const cH = Math.ceil(padT + PLOT_H + 132);

  useEffect(() => {
    const stats = p.stats;
    const whiskers = stats.map((s, i) => ({ x: i, y: [pow10(s[0]), pow10(s[4])] }));
    const boxes = stats.map((s, i) => ({ x: i, y: [pow10(s[1]), pow10(s[3])] }));
    const caps = stats.flatMap((s, i) => [{ x: i, y: pow10(s[0]) }, { x: i, y: pow10(s[4]) }]);
    const medians = stats.map((s, i) => ({ x: i, y: pow10(s[2]) }));
    const dots = p.points.flatMap((arr, i) =>
      arr.map((e, j) => ({ x: i + JITTER[(j + 5 * i) % JITTER.length], y: pow10(e) }))
    );
    const [lo, hi] = p.range;
    const chart = new Chart(ref.current as HTMLCanvasElement, {
      type: "bar",
      data: {
        datasets: [
          { type: "bar", data: whiskers as any, backgroundColor: "#000", borderWidth: 0, barThickness: 1.4, maxBarThickness: 1.4, grouped: false, order: 5, clip: 0 } as any,
          { type: "bar", data: boxes as any, backgroundColor: BOX_COLORS, borderColor: "#000", borderWidth: 1.1, borderSkipped: false, barThickness: 23.6, maxBarThickness: 23.6, grouped: false, order: 4, clip: 0 } as any,
          { type: "line", data: caps as any, showLine: false, pointStyle: "line", pointRadius: 7, pointBorderColor: "#000", pointBorderWidth: 1.4, order: 3, clip: 0 } as any,
          { type: "line", data: medians as any, showLine: false, pointStyle: "line", pointRadius: 11.2, pointBorderColor: MEDIAN_COLOR, pointBorderWidth: 1.4, order: 2, clip: 0 } as any,
          { type: "line", data: dots as any, showLine: false, pointRadius: 3.8, pointBackgroundColor: "rgba(0,0,0,0.5)", pointBorderColor: "rgba(0,0,0,0)", pointBorderWidth: 0, order: 1, clip: 0 } as any,
        ],
      },
      options: {
        animation: false,
        responsive: false,
        devicePixelRatio: 1,
        events: [],
        layout: { autoPadding: false, padding: { left: padL, top: padT, right: cW - padL - PLOT_W, bottom: cH - padT - PLOT_H } },
        plugins: { legend: { display: false }, tooltip: { enabled: false }, title: { display: false } },
        scales: {
          x: {
            type: "linear", display: false, offset: false, min: -0.5, max: 11.5,
            afterBuildTicks: (s: any) => { s.ticks = CATEGORIES.map((_, i) => ({ value: i })); s.min = -0.5; s.max = 11.5; },
          },
          y: {
            type: "logarithmic", display: false, min: pow10(lo), max: pow10(hi),
            afterBuildTicks: (s: any) => { s.min = pow10(lo); s.max = pow10(hi); },
          },
        },
      } as any,
      plugins: [overlayPlugin(p)],
    });
    return () => chart.destroy();
  }, []);

  return (
    <canvas
      ref={ref}
      width={cW}
      height={cH}
      style={{ position: "absolute", left: cLeft, top: cTop, width: cW, height: cH }}
    />
  );
}

export default function App() {
  return (
    <div style={{ position: "absolute", left: 0, top: 0, width: 899, height: 1124, background: "#fff", overflow: "hidden" }}>
      <div
        style={{
          position: "absolute", left: 0, top: 3, width: 899, textAlign: "center",
          font: `22.2px ${FONT}`, lineHeight: "26px", whiteSpace: "nowrap", color: "#000",
        }}
      >
        {TITLE}
      </div>
      {PANELS.map((p) => (
        <Panel key={p.title} p={p} />
      ))}
    </div>
  );
}
